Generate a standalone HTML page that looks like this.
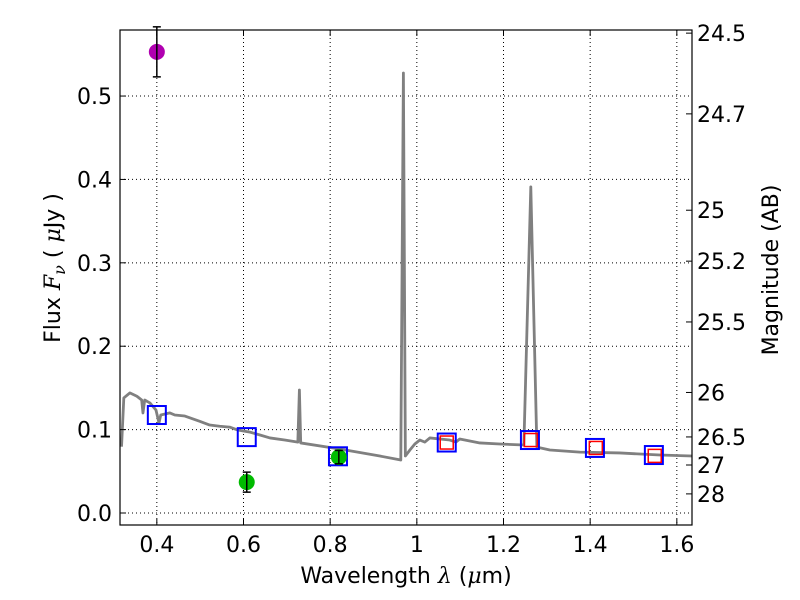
<!DOCTYPE html>
<html><head><meta charset="utf-8"><style>
html,body{margin:0;padding:0;background:#fff}
svg{display:block;font-family:"DejaVu Sans","Liberation Sans",sans-serif}
</style></head><body>
<svg id="chart" width="800" height="600" viewBox="0 0 800 600" style="position:absolute;left:0;top:0"></svg>
<script>
const specX=[0.3185,0.3238,0.3377,0.354,0.365,0.368,0.372,0.384,0.398,0.405,0.409,0.430,0.4415,0.4646,0.499,0.522,0.545,0.568,0.587,0.603,0.615,0.638,0.661,0.695,0.7254,0.729,0.732,0.822,0.9147,0.963,0.969,0.9735,0.984,0.9954,1.007,1.0185,1.030,1.076,1.090,1.099,1.1455,1.1916,1.247,1.263,1.277,1.307,1.376,1.468,1.561,1.635];
const specY=[0.0795,0.138,0.144,0.140,0.1355,0.120,0.1355,0.132,0.1235,0.108,0.1175,0.120,0.1175,0.1163,0.110,0.1055,0.104,0.103,0.0995,0.098,0.097,0.0935,0.090,0.0875,0.085,0.1475,0.084,0.0767,0.0683,0.0635,0.5276,0.0683,0.0755,0.0827,0.0875,0.085,0.090,0.0875,0.085,0.0887,0.084,0.0827,0.0815,0.391,0.079,0.0755,0.073,0.072,0.0695,0.0683];
const blueX=[0.40,0.6075,0.818,1.069,1.261,1.411,1.547];
const blueY=[0.1175,0.091,0.068,0.0845,0.0875,0.078,0.0695];
const redX=[1.069,1.263,1.413,1.549];
const redY=[0.0845,0.0875,0.078,0.0685];
const ptX=[0.40,0.6075,0.82];
const ptY=[0.553,0.037,0.067];
const ptErr=[0.030,0.012,0.008];
const ptColor=['#b000b0','#00bb00','#00bb00'];
const xTicks=[0.4,0.6,0.8,1.0,1.2,1.4,1.6];
const xTickLabels=['0.4','0.6','0.8','1','1.2','1.4','1.6'];
const yTicks=[0,0.1,0.2,0.3,0.4,0.5];
const yTickLabels=['0.0','0.1','0.2','0.3','0.4','0.5'];
const magTicks=[24.5,24.7,25,25.2,25.5,26,26.5,27,28];
const magLabels=['24.5','24.7','25','25.2','25.5','26','26.5','27','28'];

const L=120,R=692,T=30,B=525,X0=0.315,X1=1.635,Y0=-0.0144,Y1=0.5792;
const sx=v=>L+(v-X0)/(X1-X0)*(R-L);
const sy=v=>B-(v-Y0)/(Y1-Y0)*(B-T);
const NS='http://www.w3.org/2000/svg';
const svg=document.getElementById('chart');
function mk(tag,attrs,parent){const e=document.createElementNS(NS,tag);for(const k in attrs)e.setAttribute(k,attrs[k]);(parent||svg).appendChild(e);return e;}

const grid=mk('g',{});


xTicks.forEach(v=>{mk('line',{x1:sx(v),x2:sx(v),y1:T,y2:B,stroke:'#000','stroke-width':1,'stroke-dasharray':'1,3'},grid);});
yTicks.forEach(v=>{mk('line',{x1:L,x2:R,y1:sy(v),y2:sy(v),stroke:'#000','stroke-width':1,'stroke-dasharray':'1,3'},grid);});

const sp=mk('polyline',{points:specX.map((x,i)=>sx(x)+','+sy(specY[i])).join(' '),fill:'none',stroke:'#808080','stroke-width':2.8,'stroke-linejoin':'round'});



blueX.forEach((x,i)=>{const r=mk('rect',{x:sx(x)-9,y:sy(blueY[i])-9,width:18,height:18,fill:'none',stroke:'#0000ff','stroke-width':2});

});
redX.forEach((x,i)=>{const r=mk('rect',{x:sx(x)-6.5,y:sy(redY[i])-6.5,width:13,height:13,fill:'none',stroke:'#ff0000','stroke-width':1.5});

});

ptX.forEach((x,i)=>{const g=mk('g',{});


const cx=sx(x),cy=sy(ptY[i]);
mk('circle',{cx:cx,cy:cy,r:8,fill:ptColor[i]},g);
const y1=sy(ptY[i]+ptErr[i]),y2=sy(ptY[i]-ptErr[i]);
mk('line',{x1:cx,x2:cx,y1:y1,y2:y2,stroke:'#000','stroke-width':1.5},g);
mk('line',{x1:cx-4,x2:cx+4,y1:y1,y2:y1,stroke:'#000','stroke-width':1.5},g);
mk('line',{x1:cx-4,x2:cx+4,y1:y2,y2:y2,stroke:'#000','stroke-width':1.5},g);});

const ax=mk('g',{});


mk('rect',{x:L,y:T,width:R-L,height:B-T,fill:'none',stroke:'#000','stroke-width':1.2},ax);
xTicks.forEach((v,i)=>{const x=sx(v);
mk('line',{x1:x,x2:x,y1:B,y2:B-6,stroke:'#000'},ax);mk('line',{x1:x,x2:x,y1:T,y2:T+6,stroke:'#000'},ax);
const t=mk('text',{x:x,y:B+27,'text-anchor':'middle','font-size':22},ax);t.textContent=xTickLabels[i];

});
yTicks.forEach((v,i)=>{const y=sy(v);
mk('line',{x1:L,x2:L+6,y1:y,y2:y,stroke:'#000'},ax);
const t=mk('text',{x:L-8,y:y+8,'text-anchor':'end','font-size':22},ax);t.textContent=yTickLabels[i];

});
magTicks.forEach((m,i)=>{const y=sy(Math.pow(10,(23.9-m)/2.5));
mk('line',{x1:R,x2:R-6,y1:y,y2:y,stroke:'#000'},ax);
const t=mk('text',{x:R+5,y:y+8,'font-size':22},ax);t.textContent=magLabels[i];

});
</script>
<svg width="800" height="600" style="position:absolute;left:0;top:0;font-family:'DejaVu Sans','Liberation Sans',sans-serif">
<text x="406" y="583" text-anchor="middle" font-size="22">Wavelength  <tspan font-style="italic" font-family="DejaVu Serif,serif">λ</tspan> (<tspan font-style="italic" font-family="DejaVu Serif,serif">μ</tspan>m)</text>
<text transform="translate(60,268) rotate(-90)" text-anchor="middle" font-size="22">Flux  <tspan font-style="italic" font-family="DejaVu Serif,serif">F</tspan><tspan font-style="italic" font-family="DejaVu Serif,serif" font-size="16" dy="5">ν</tspan><tspan dy="-5">  ( </tspan><tspan font-style="italic" font-family="DejaVu Serif,serif">μ</tspan>Jy )</text>
<text transform="translate(778,270) rotate(-90)" text-anchor="middle" font-size="22">Magnitude (AB)</text>
</svg>
</body></html>
